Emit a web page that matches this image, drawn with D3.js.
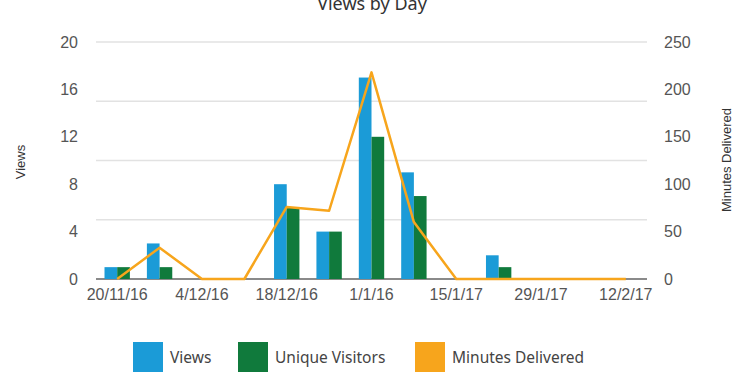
<!DOCTYPE html>
<html>
<head>
<meta charset="utf-8">
<script src="https://cdn.jsdelivr.net/npm/d3@7"></script>
<style>
  body { margin: 0; background: #fff; }
  svg { display: block; }
</style>
</head>
<body>
<svg id="chart" width="738" height="375"></svg>
<script>
// weekly buckets
const weeks = ["20/11/16", "27/11/16", "4/12/16", "11/12/16", "18/12/16", "25/12/16", "1/1/16",
    "8/1/17", "15/1/17", "22/1/17", "29/1/17", "5/2/17", "12/2/17"];
const tickLabels = ["20/11/16", "4/12/16", "18/12/16", "1/1/16", "15/1/17", "29/1/17", "12/2/17"];
const views = [1, 3, 0, 0, 8, 4, 17, 9, 0, 2, 0, 0, 0];
const uniqueVisitors = [1, 1, 0, 0, 6, 4, 12, 7, 0, 1, 0, 0, 0];
const minutesDelivered = [0, 33, 0, 0, 76, 72, 218, 60, 0, 0, 0, 0, 0];

const svg = d3.select("#chart");
const margin = {top: 42, right: 91, bottom: 96, left: 96};
const width = 738 - margin.left - margin.right;
const height = 375 - margin.top - margin.bottom;

const blue = "#1b9bd7", green = "#107a3c", orange = "#f7a51c";
const tickFont = "Liberation Sans, Arial, sans-serif";
const textFont = "Noto Sans, Open Sans, sans-serif";

const g = svg.append("g").attr("transform", `translate(${margin.left},${margin.top})`);

const x = d3.scaleBand().domain(weeks).range([0, width]).padding(0);
const x1 = d3.scaleBand().domain(["views", "unique"]).range([0, x.bandwidth()])
    .paddingInner(0).paddingOuter(0.67);
const y = d3.scaleLinear().domain([0, 20]).range([height, 0]);
const y2 = d3.scaleLinear().domain([0, 250]).range([height, 0]);

// gridlines
g.append("g")
    .selectAll("line")
    .data(y.ticks(5).filter(d => d > 0))
    .enter().append("line")
    .attr("x1", 0).attr("x2", width)
    .attr("y1", d => y(d)).attr("y2", d => y(d))
    .attr("stroke", "#e2e2e2").attr("stroke-width", 1.5);

// baseline
g.append("line")
    .attr("x1", 0).attr("x2", width)
    .attr("y1", height).attr("y2", height)
    .attr("stroke", "#8a8a8a").attr("stroke-width", 2);

// left axis
const yAxis = g.append("g")
    .call(d3.axisLeft(y).tickValues([0, 4, 8, 12, 16, 20]).tickSize(0).tickPadding(18));
yAxis.select(".domain").remove();
yAxis.selectAll("text").attr("font-family", tickFont).attr("font-size", 16).attr("fill", "#555");

// right axis
const y2Axis = g.append("g")
    .attr("transform", `translate(${width},0)`)
    .call(d3.axisRight(y2).tickValues([0, 50, 100, 150, 200, 250]).tickSize(0).tickPadding(17));
y2Axis.select(".domain").remove();
y2Axis.selectAll("text").attr("font-family", tickFont).attr("font-size", 16).attr("fill", "#555");

// bottom axis
const xAxis = g.append("g")
    .attr("transform", `translate(0,${height})`)
    .call(d3.axisBottom(x).tickValues(weeks.filter(w => tickLabels.includes(w))).tickSize(0).tickPadding(10));
xAxis.select(".domain").remove();
xAxis.selectAll("text").attr("font-family", tickFont).attr("font-size", 16).attr("fill", "#555");

// bars
const groups = g.append("g")
    .selectAll("g")
    .data(weeks.map((w, i) => ({week: w, views: views[i], unique: uniqueVisitors[i]})))
    .enter().append("g")
    .attr("transform", d => `translate(${x(d.week)},0)`);

groups.selectAll("rect")
    .data(d => [{key: "views", v: d.views}, {key: "unique", v: d.unique}].filter(e => e.v > 0))
    .enter().append("rect")
    .attr("x", d => x1(d.key))
    .attr("width", x1.bandwidth())
    .attr("y", d => y(d.v))
    .attr("height", d => y(0) - y(d.v))
    .attr("fill", d => d.key === "views" ? blue : green);

// minutes line
const line = d3.line()
    .x((d, i) => x(weeks[i]) + x.bandwidth() / 2)
    .y(d => y2(d));

g.append("path")
    .datum(minutesDelivered)
    .attr("d", line)
    .attr("fill", "none")
    .attr("stroke", orange)
    .attr("stroke-width", 2.5)
    .attr("stroke-linejoin", "round");

// titles
svg.append("text")
    .attr("x", 372).attr("y", 10)
    .attr("text-anchor", "middle")
    .attr("font-family", textFont).attr("font-size", 18).attr("fill", "#333")
    .text("Views by Day");

svg.append("text")
    .attr("transform", "translate(25,162) rotate(-90)")
    .attr("text-anchor", "middle")
    .attr("font-family", tickFont).attr("font-size", 13).attr("fill", "#333")
    .text("Views");

svg.append("text")
    .attr("transform", "translate(731,160) rotate(-90)")
    .attr("text-anchor", "middle")
    .attr("font-family", tickFont).attr("font-size", 13).attr("fill", "#333")
    .text("Minutes Delivered");

// legend
const legendItems = [
    {name: "Views", color: blue, x: 133},
    {name: "Unique Visitors", color: green, x: 238},
    {name: "Minutes Delivered", color: orange, x: 415}
];
const legend = svg.append("g").selectAll("g")
    .data(legendItems)
    .enter().append("g")
    .attr("transform", d => `translate(${d.x},342)`);
legend.append("rect")
    .attr("width", 30).attr("height", 30)
    .attr("fill", d => d.color);
legend.append("text")
    .attr("x", 37).attr("y", 21)
    .attr("font-family", textFont).attr("font-size", 15.5).attr("fill", "#444")
    .text(d => d.name);
</script>
</body>
</html>
